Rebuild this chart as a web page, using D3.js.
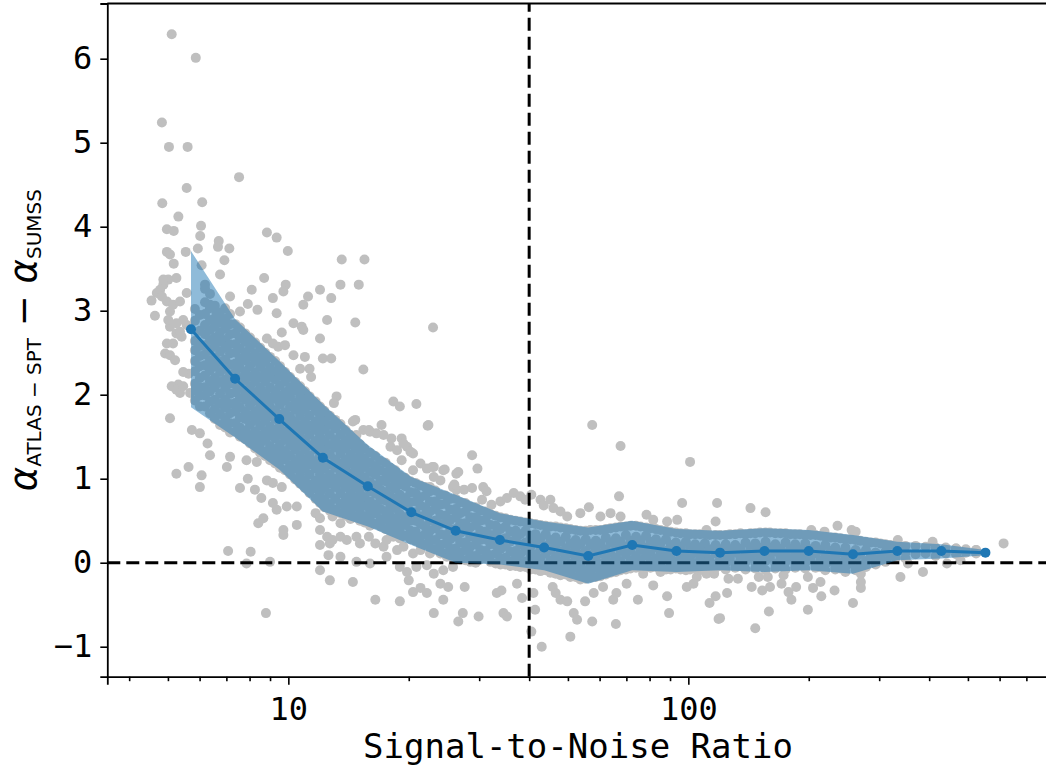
<!DOCTYPE html>
<html>
<head>
<meta charset="utf-8">
<script src="https://cdn.jsdelivr.net/npm/d3@7"></script>
<style>
  body { margin: 0; background: #fff; }
  svg { display: block; }
</style>
</head>
<body>
<svg id="chart" width="1046" height="771"></svg>
<script>
// binned running statistics (SNR bin centre, mean, mean+sd, mean-sd)
const binSnr = [5.71, 7.36, 9.49, 12.2, 15.8, 20.3, 26.2, 33.8, 43.6, 56.2, 72.4, 93.4, 120, 155, 200, 258, 333, 429, 553];
const binMean = [2.78, 2.19, 1.71, 1.25, 0.91, 0.60, 0.38, 0.27, 0.18, 0.08, 0.21, 0.14, 0.12, 0.14, 0.14, 0.10, 0.14, 0.14, 0.12];
const binUpper = [3.71, 2.90, 2.40, 1.89, 1.40, 1.02, 0.81, 0.59, 0.49, 0.42, 0.50, 0.40, 0.38, 0.41, 0.39, 0.33, 0.25, 0.22, 0.15];
const binLower = [1.85, 1.49, 1.11, 0.61, 0.43, 0.21, 0.00, -0.02, -0.09, -0.25, -0.09, -0.11, -0.09, -0.11, -0.09, -0.13, 0.03, 0.05, 0.09];

// reference cuts
const snrCut = 40;
const alphaCut = 0;

const xMajor = [10, 100];
const xMinor = [4, 5, 6, 7, 8, 9, 20, 30, 40, 50, 60, 70, 80, 90, 200, 300, 400, 500, 600, 700];
const yTicks = [-1, 0, 1, 2, 3, 4, 5, 6];

// individual sources [SNR, alpha difference] - isolated ones
const sources = [
  [5.11, 6.29], [5.87, 6.01], [4.83, 5.24], [5.03, 4.95], [5.60, 4.95], [7.53, 4.59], [5.57, 4.46],
  [4.84, 4.28], [6.09, 4.29], [5.31, 4.12], [4.97, 3.97], [5.17, 3.95], [6.05, 4.01], [6.02, 3.89],
  [8.84, 3.93], [9.35, 3.87], [9.97, 3.71], [6.70, 3.83], [6.67, 3.76], [7.12, 3.74], [4.97, 3.70],
  [5.06, 3.67], [5.54, 3.70], [5.94, 3.74], [5.17, 3.56], [6.07, 3.54], [6.92, 3.60], [13.6, 3.61],
  [15.5, 3.61], [6.75, 3.43], [8.70, 3.39], [5.25, 3.39], [5.01, 3.37], [9.85, 3.31], [9.72, 3.23],
  [12.0, 3.25], [13.5, 3.31], [15.0, 3.31], [4.87, 3.31], [4.78, 3.25], [4.69, 3.21], [4.55, 3.12],
  [4.64, 2.94], [4.97, 3.11], [5.15, 3.07], [5.36, 3.11], [6.19, 3.26], [5.57, 3.21], [7.15, 3.17],
  [8.10, 3.25], [7.92, 3.08], [8.37, 3.01], [9.15, 3.15], [11.2, 3.17], [10.9, 3.07], [12.8, 3.15],
  [9.35, 2.97], [7.57, 2.99], [6.37, 3.07], [6.62, 2.97], [6.88, 2.89], [10.3, 2.85], [10.8, 2.81],
  [10.9, 2.77], [9.63, 2.74], [12.5, 2.89], [12.0, 2.67], [14.7, 2.86], [5.06, 2.81], [5.25, 2.73],
  [5.41, 2.69], [5.57, 2.83], [5.15, 2.61], [4.97, 2.61], [4.92, 2.49], [5.06, 2.47], [5.21, 2.41],
  [4.87, 3.37], [4.83, 3.17], [5.06, 2.99], [5.01, 2.89], [5.25, 2.85], [5.46, 2.89], [5.36, 2.75],
  [5.11, 2.10], [5.31, 2.12], [5.36, 2.02], [5.06, 1.72], [5.25, 2.06], [5.46, 2.10], [5.68, 2.02],
  [5.63, 2.25], [5.46, 2.27], [5.74, 1.58], [6.01, 1.54], [6.28, 1.42], [6.37, 1.28], [5.63, 1.14],
  [5.25, 1.06], [6.07, 1.04], [7.15, 1.26], [7.02, 1.14], [6.01, 0.90], [7.57, 0.89], [7.92, 1.00],
  [7.86, 1.22], [8.25, 0.87], [8.56, 0.77], [8.34, 1.20], [8.84, 0.98], [9.15, 0.95], [9.63, 0.90],
  [9.91, 0.67], [10.5, 0.67], [9.15, 0.71], [9.35, 0.63], [8.41, 0.47], [8.66, 0.53], [9.72, 0.39],
  [9.72, 0.33], [10.5, 0.45], [7.07, 0.14], [8.05, 0.13], [7.86, -0.01], [9.00, 0.01], [12.0, 0.39],
  [12.0, 0.21], [12.7, 0.23], [12.9, 0.27], [12.0, -0.09], [12.7, -0.21], [8.79, -0.60], [11.7, 0.59],
  [12.0, 0.53], [12.9, 0.55], [13.5, 0.47],
  [8.84, 2.67], [9.15, 2.61], [9.43, 2.57], [9.81, 2.59], [10.3, 2.47], [11.0, 2.45], [10.7, 2.31],
  [11.3, 2.31], [11.4, 2.21], [12.2, 2.43], [12.8, 2.43], [15.4, 2.30], [13.2, 1.98], [13.0, 1.90],
  [23.0, 2.80], [18.3, 1.92], [19.0, 1.86], [20.9, 1.89], [22.4, 1.64], [14.7, 1.70], [15.4, 1.58],
  [16.0, 1.56], [16.6, 1.54], [17.3, 1.52], [18.1, 1.48], [19.2, 1.48], [19.8, 1.38], [17.1, 1.64],
  [18.0, 1.38], [18.7, 1.34], [20.5, 1.30], [21.4, 1.18], [22.2, 1.12], [14.5, 1.68], [14.8, 1.52],
  [15.9, 1.58], [19.2, 1.22], [20.5, 1.10], [23.1, 1.14], [24.6, 1.11], [26.3, 1.06], [23.1, 1.02],
  [24.0, 0.98], [25.8, 0.90], [26.3, 0.87], [22.3, 1.63], [19.4, 1.42], [20.2, 1.32], [22.9, 1.14],
  [24.4, 1.10], [26.6, 1.08], [28.8, 1.28], [29.7, 1.12], [22.6, 0.90], [26.0, 0.93], [27.5, 0.87],
  [28.8, 0.89], [30.7, 0.90], [31.3, 0.85], [30.5, 0.75], [32.2, 0.69], [33.9, 0.73], [35.2, 0.77],
  [36.6, 0.83], [38.0, 0.79], [39.1, 0.75], [40.5, 0.81], [42.7, 0.75], [45.2, 0.75], [43.5, 0.68],
  [46.0, 0.65], [47.9, 0.61], [49.8, 0.55], [53.7, 0.59], [56.4, 0.66], [57.5, 1.64], [67.7, 1.39],
  [67.1, 0.79], [60.3, 0.55], [63.9, 0.59], [67.7, 0.55], [78.6, 0.57], [81.7, 0.51], [88.5, 0.49],
  [93.8, 0.51], [96.5, 0.71], [101, 1.20], [118, 0.71], [117, 0.49], [111, 0.39], [143, 0.65],
  [156, 0.60], [236, 0.44], [256, 0.39], [262, 0.37], [203, 0.39], [219, 0.37], [614, 0.23],
  [334, 0.27], [408, 0.25], [467, 0.17], [524, 0.15], [354, -0.01], [443, -0.01], [479, 0.03],
  [311, 0.01], [339, 0.19], [339, -0.17], [386, -0.11],
  [12.5, 0.31], [13.5, 0.31], [14.0, 0.27], [14.8, 0.31], [15.1, 0.23], [15.9, 0.31], [16.5, 0.23],
  [17.3, 0.19], [17.6, 0.27], [18.3, 0.31], [18.7, 0.15], [19.4, 0.19], [20.5, 0.11], [21.4, 0.15],
  [22.6, 0.11], [24.0, 0.11], [24.9, 0.07], [14.5, -0.23], [12.6, 0.09], [13.5, 0.07], [14.8, 0.01],
  [16.0, -0.01], [17.6, 0.07], [19.0, -0.05], [19.8, -0.11], [20.9, -0.05], [22.2, -0.03], [23.1, -0.13],
  [24.4, -0.09], [25.8, -0.05], [20.0, -0.21], [20.5, -0.35], [21.4, -0.30], [22.2, -0.36], [24.0, -0.25],
  [25.1, -0.29], [16.5, -0.44], [19.0, -0.46], [23.1, -0.60], [24.4, -0.44], [26.6, -0.70], [27.3, -0.60],
  [27.6, -0.29], [29.9, -0.64], [33.2, -0.36], [34.1, -0.33], [34.5, -0.60], [35.2, -0.64], [37.3, -0.25],
  [38.4, -0.42], [41.0, -0.36], [40.5, -0.82], [41.4, -0.56], [43.0, -1.00], [45.8, -0.29], [46.6, -0.36],
  [47.9, -0.44], [49.8, -0.46], [50.7, -0.88], [51.7, -0.60], [52.7, -0.68], [55.2, -0.46], [57.5, -0.70],
  [58.0, -0.36], [61.2, -0.29], [64.9, -0.44], [66.1, -0.36], [65.9, -0.73], [70.1, -0.25], [74.8, -0.44],
  [81.7, -0.27], [88.5, -0.40], [89.5, -0.60], [99.1, -0.29], [103, -0.25], [117, -0.40], [113, -0.48],
  [119, -0.67], [105, -0.17], [111, -0.13], [77.1, -0.13], [85.2, -0.11],
  [270, -0.13], [270, -0.23], [270, -0.30], [258, -0.48], [232, -0.33], [215, -0.40], [205, -0.30],
  [214, -0.23], [199, -0.17], [186, -0.29], [178, -0.35], [181, -0.44], [171, -0.25], [159, -0.58],
  [147, -0.78], [120, -0.66], [125, -0.36], [144, -0.29], [153, -0.33], [160, -0.29], [150, -0.17],
  [158, -0.17], [133, -0.19], [126, -0.19], [116, -0.13], [199, -0.56], [173, -0.15], [107, -0.09]
];

// the dense core of the distribution, read column by column [SNR, [alpha differences]]
const coreColumns = [
  [5.84, [3.02, 2.88, 2.64, 2.53, 2.40, 2.28, 2.13, 2.05, 1.93]],
  [6.19, [3.31, 3.10, 2.96, 2.83, 2.72, 2.59, 2.48, 2.35, 2.23, 2.09, 1.99, 1.86]],
  [6.55, [3.06, 2.91, 2.81, 2.68, 2.58, 2.44, 2.34, 2.20, 2.09, 1.94, 1.83, 1.71]],
  [6.95, [3.03, 2.90, 2.79, 2.65, 2.56, 2.42, 2.31, 2.18, 2.08, 1.94, 1.85, 1.71, 1.61]],
  [7.37, [2.84, 2.73, 2.60, 2.50, 2.37, 2.27, 2.13, 2.03, 1.90, 1.80, 1.66, 1.56]],
  [7.80, [2.73, 2.63, 2.50, 2.41, 2.27, 2.17, 2.04, 1.94, 1.80, 1.71, 1.57, 1.47]],
  [8.26, [2.62, 2.49, 2.40, 2.26, 2.16, 2.03, 1.93, 1.80, 1.70, 1.56, 1.47, 1.36]],
  [8.75, [2.50, 2.39, 2.26, 2.16, 2.02, 1.93, 1.79, 1.69, 1.56, 1.46, 1.32, 1.27]],
  [9.27, [2.40, 2.28, 2.18, 2.04, 1.95, 1.81, 1.71, 1.58, 1.48, 1.35, 1.25, 1.18]],
  [9.81, [2.27, 2.16, 2.03, 1.93, 1.79, 1.70, 1.56, 1.47, 1.33, 1.23, 1.10]],
  [10.4, [2.15, 2.05, 1.91, 1.82, 1.68, 1.58, 1.45, 1.35, 1.21, 1.12, 0.99]],
  [11.0, [2.04, 1.92, 1.82, 1.68, 1.59, 1.45, 1.35, 1.22, 1.12, 0.98, 0.89]],
  [11.7, [1.92, 1.81, 1.68, 1.58, 1.45, 1.35, 1.21, 1.12, 0.98, 0.88, 0.76]],
  [12.3, [1.81, 1.69, 1.59, 1.45, 1.36, 1.22, 1.12, 0.99, 0.89, 0.75, 0.66]],
  [13.1, [1.70, 1.60, 1.46, 1.37, 1.23, 1.13, 1.00, 0.90, 0.76, 0.63]],
  [13.9, [1.58, 1.46, 1.36, 1.23, 1.13, 1.00, 0.90, 0.77, 0.67, 0.56]],
  [14.7, [1.47, 1.36, 1.23, 1.13, 1.00, 0.90, 0.77, 0.67, 0.54]],
  [15.5, [1.36, 1.24, 1.14, 1.01, 0.91, 0.78, 0.68, 0.55, 0.48]],
  [16.5, [1.27, 1.15, 1.05, 0.92, 0.82, 0.69, 0.59, 0.46]],
  [17.5, [1.19, 1.07, 0.97, 0.84, 0.74, 0.61, 0.51, 0.40]],
  [18.5, [1.10, 0.98, 0.88, 0.75, 0.65, 0.52, 0.42, 0.34]],
  [19.6, [1.01, 0.91, 0.77, 0.68, 0.54, 0.45, 0.32]],
  [20.8, [0.95, 0.83, 0.73, 0.60, 0.50, 0.37, 0.26]],
  [22.0, [0.90, 0.80, 0.66, 0.57, 0.43, 0.34, 0.22]],
  [23.3, [0.86, 0.73, 0.64, 0.50, 0.41, 0.27, 0.16]],
  [24.7, [0.80, 0.70, 0.56, 0.47, 0.33, 0.23, 0.11]],
  [26.2, [0.76, 0.64, 0.54, 0.40, 0.31, 0.17, 0.07]],
  [27.7, [0.71, 0.61, 0.47, 0.38, 0.24, 0.15, 0.03]],
  [29.4, [0.66, 0.54, 0.45, 0.31, 0.22, 0.08, 0.00]],
  [31.1, [0.61, 0.51, 0.37, 0.28, 0.14, 0.05]],
  [33.0, [0.56, 0.44, 0.34, 0.21, 0.11, -0.01]],
  [34.9, [0.53, 0.43, 0.29, 0.20, 0.06, -0.02]],
  [37.0, [0.50, 0.38, 0.28, 0.14, 0.05, -0.04]],
  [39.2, [0.48, 0.38, 0.24, 0.15, 0.01, -0.05]],
  [41.5, [0.46, 0.34, 0.24, 0.10, 0.01, -0.08]],
  [44.0, [0.44, 0.34, 0.20, 0.11, -0.03, -0.09]],
  [46.6, [0.43, 0.30, 0.21, 0.07, -0.02, -0.13]],
  [49.4, [0.41, 0.31, 0.17, 0.08, -0.06, -0.14]],
  [52.3, [0.39, 0.27, 0.17, 0.04, -0.06, -0.17]],
  [55.4, [0.38, 0.28, 0.14, 0.05, -0.09, -0.19]],
  [58.7, [0.39, 0.26, 0.17, 0.03, -0.06, -0.17]],
  [62.2, [0.40, 0.30, 0.16, 0.07, -0.07, -0.14]],
  [65.9, [0.42, 0.29, 0.20, 0.06, -0.03, -0.11]],
  [69.8, [0.43, 0.33, 0.19, 0.10, -0.04, -0.08]],
  [74.0, [0.44, 0.31, 0.22, 0.08, -0.01, -0.06]],
  [78.4, [0.42, 0.32, 0.18, 0.09, -0.05]],
  [83.0, [0.40, 0.28, 0.18, 0.05, -0.05]],
  [87.9, [0.38, 0.28, 0.14, 0.05, -0.08]],
  [93.1, [0.36, 0.24, 0.14, 0.01, -0.07]],
  [98.6, [0.35, 0.25, 0.11, 0.02, -0.09]],
  [104, [0.34, 0.22, 0.12, -0.01, -0.07]],
  [110, [0.34, 0.23, 0.10, 0.00, -0.08]],
  [117, [0.33, 0.21, 0.11, -0.02, -0.06]],
  [124, [0.33, 0.22, 0.09, -0.01, -0.08]],
  [131, [0.34, 0.21, 0.12, -0.02, -0.06]],
  [139, [0.34, 0.24, 0.10, 0.01, -0.08]],
  [147, [0.35, 0.23, 0.13, 0.00, -0.07]],
  [156, [0.36, 0.25, 0.12, 0.02, -0.09]],
  [165, [0.35, 0.22, 0.13, -0.01, -0.07]],
  [175, [0.35, 0.24, 0.11, 0.01, -0.08]],
  [185, [0.34, 0.22, 0.12, -0.01, -0.06]],
  [196, [0.33, 0.23, 0.09, 0.00, -0.07]],
  [208, [0.33, 0.20, 0.11, -0.03, -0.06]],
  [220, [0.31, 0.21, 0.07, -0.02, -0.09]],
  [233, [0.30, 0.18, 0.08, -0.05, -0.08]],
  [247, [0.28, 0.18, 0.04, -0.05, -0.11]],
  [262, [0.27, 0.15, 0.05, -0.08, -0.09]],
  [278, [0.25, 0.15, 0.02, -0.05]],
  [294, [0.24, 0.12, 0.03, -0.02]],
  [311, [0.22, 0.13, 0.02]],
  [330, [0.21, 0.11, 0.06]],
  [349, [0.20, 0.12, 0.05]],
  [370, [0.20, 0.10]],
  [392, [0.19, 0.11]],
  [415, [0.18, 0.08]],
  [440, [0.18, 0.11]],
  [467, [0.17, 0.10]],
  [494, [0.16, 0.12]],
  [524, [0.15, 0.11]]
];

// more of the core, lying between the columns above
const coreBetween = [
  [6.01, [2.95, 2.76, 2.58, 2.46, 2.34, 2.20, 2.09, 1.99, 1.86]],
  [6.37, [3.20, 3.03, 2.89, 2.77, 2.65, 2.53, 2.41, 2.29, 2.16, 2.04, 1.92, 1.78]],
  [6.75, [2.98, 2.86, 2.74, 2.63, 2.51, 2.39, 2.27, 2.15, 2.01, 1.89, 1.77, 1.64]],
  [7.15, [2.96, 2.84, 2.72, 2.60, 2.49, 2.36, 2.24, 2.13, 2.01, 1.89, 1.78, 1.66, 1.55]],
  [7.57, [2.80, 2.67, 2.55, 2.43, 2.32, 2.20, 2.08, 1.96, 1.85, 1.73, 1.61, 1.50]],
  [8.02, [2.68, 2.56, 2.45, 2.34, 2.22, 2.10, 1.99, 1.87, 1.75, 1.64, 1.52, 1.42]],
  [8.50, [2.56, 2.44, 2.33, 2.21, 2.09, 1.98, 1.86, 1.75, 1.63, 1.51, 1.41, 1.31]],
  [9.00, [2.45, 2.32, 2.21, 2.09, 1.97, 1.86, 1.74, 1.62, 1.51, 1.39, 1.29, 1.22]],
  [9.53, [2.34, 2.23, 2.11, 1.99, 1.88, 1.76, 1.64, 1.53, 1.41, 1.30, 1.21, 1.13]],
  [10.1, [2.21, 2.09, 1.98, 1.86, 1.74, 1.63, 1.51, 1.40, 1.28, 1.16, 1.05]],
  [10.7, [2.10, 1.98, 1.86, 1.75, 1.63, 1.51, 1.40, 1.28, 1.16, 1.05, 0.94]],
  [11.3, [1.98, 1.87, 1.75, 1.63, 1.52, 1.40, 1.28, 1.17, 1.05, 0.93, 0.83]],
  [12.0, [1.86, 1.75, 1.63, 1.51, 1.40, 1.28, 1.16, 1.05, 0.93, 0.82, 0.71]],
  [12.7, [1.75, 1.64, 1.52, 1.40, 1.29, 1.17, 1.05, 0.94, 0.82, 0.70, 0.62]],
  [13.5, [1.65, 1.53, 1.41, 1.30, 1.18, 1.06, 0.95, 0.83, 0.70, 0.59]],
  [14.3, [1.52, 1.41, 1.29, 1.18, 1.06, 0.95, 0.83, 0.72, 0.61, 0.52]],
  [15.1, [1.41, 1.29, 1.18, 1.06, 0.95, 0.83, 0.72, 0.60, 0.50]],
  [16.0, [1.31, 1.19, 1.08, 0.96, 0.85, 0.73, 0.62, 0.51, 0.44]],
  [17.0, [1.21, 1.10, 0.98, 0.87, 0.75, 0.64, 0.52, 0.43]],
  [18.0, [1.13, 1.02, 0.90, 0.79, 0.67, 0.56, 0.45, 0.37]],
  [19.0, [1.04, 0.93, 0.81, 0.70, 0.58, 0.47, 0.37, 0.29]],
  [20.2, [0.97, 0.84, 0.72, 0.61, 0.50, 0.38, 0.28]],
  [21.4, [0.92, 0.78, 0.68, 0.55, 0.46, 0.31, 0.22]],
  [22.6, [0.85, 0.73, 0.61, 0.50, 0.38, 0.28, 0.18]],
  [24.0, [0.81, 0.69, 0.57, 0.46, 0.34, 0.21, 0.13]],
  [25.4, [0.76, 0.63, 0.51, 0.40, 0.28, 0.17, 0.08]],
  [26.9, [0.72, 0.59, 0.47, 0.35, 0.24, 0.12, 0.04]],
  [28.5, [0.67, 0.54, 0.42, 0.31, 0.19, 0.09, 0.01]],
  [30.2, [0.62, 0.50, 0.38, 0.27, 0.15, 0.04]],
  [32.0, [0.58, 0.45, 0.33, 0.22, 0.09, 0.01]],
  [33.9, [0.54, 0.40, 0.28, 0.16, 0.05, -0.02]],
  [35.9, [0.51, 0.37, 0.25, 0.13, 0.01, -0.04]],
  [38.0, [0.49, 0.34, 0.22, 0.10, -0.01, -0.05]],
  [40.3, [0.47, 0.32, 0.19, 0.08, -0.03, -0.08]],
  [42.7, [0.45, 0.29, 0.17, 0.05, -0.05, -0.10]],
  [45.2, [0.43, 0.27, 0.15, 0.03, -0.07, -0.12]],
  [47.9, [0.42, 0.25, 0.13, 0.01, -0.09, -0.15]],
  [50.7, [0.40, 0.23, 0.11, -0.01, -0.11, -0.17]],
  [53.7, [0.38, 0.22, 0.10, -0.02, -0.13, -0.20]],
  [56.9, [0.39, 0.22, 0.10, -0.02, -0.12, -0.18]],
  [60.3, [0.39, 0.23, 0.11, -0.01, -0.10, -0.16]],
  [63.9, [0.41, 0.24, 0.12, 0.00, -0.08, -0.12]],
  [67.7, [0.43, 0.25, 0.14, 0.02, -0.06, -0.09]],
  [71.7, [0.44, 0.26, 0.15, 0.03, -0.05, -0.07]],
  [75.9, [0.43, 0.26, 0.15, 0.03, -0.05]],
  [80.4, [0.41, 0.25, 0.13, 0.02, -0.06]],
  [85.2, [0.39, 0.23, 0.11, 0.00, -0.07]],
  [90.3, [0.37, 0.21, 0.09, -0.02, -0.08]],
  [95.6, [0.35, 0.19, 0.07, -0.03, -0.08]],
  [101, [0.34, 0.18, 0.06, -0.04, -0.08]],
  [107, [0.34, 0.17, 0.05, -0.04]],
  [113, [0.33, 0.16, 0.04, -0.04]],
  [120, [0.33, 0.16, 0.04, -0.04]],
  [127, [0.34, 0.16, 0.05]],
  [135, [0.35, 0.17, 0.05, -0.04]],
  [143, [0.35, 0.18, 0.06]],
  [151, [0.36, 0.18, 0.07, -0.04]],
  [160, [0.36, 0.18, 0.06]],
  [170, [0.35, 0.17, 0.06, -0.04]],
  [180, [0.34, 0.17, 0.05]],
  [190, [0.34, 0.16, 0.05, -0.03]],
  [202, [0.33, 0.16, 0.04]],
  [214, [0.32, 0.15, 0.03, -0.05]],
  [227, [0.30, 0.14, 0.02]],
  [240, [0.29, 0.12, 0.00, -0.07]],
  [254, [0.28, 0.11, -0.01]],
  [269, [0.26, 0.10, -0.02]],
  [286, [0.24, 0.09]],
  [302, [0.23, 0.08]],
  [320, [0.21, 0.08]]
];

const plot = { left: 107.3, right: 1048.7, top: 3.5, bottom: 676.7 };
const blue = "#1f77b4";

const svg = d3.select("#chart");

const x = d3.scaleLog().domain([3.527, 796]).range([plot.left, plot.right]);
const y = d3.scaleLinear().domain([-1.357, 6.657]).range([plot.bottom, plot.top]);

const points = sources
    .concat(coreColumns.flatMap(([s, vals]) => vals.map((v) => [s, v])))
    .concat(coreBetween.flatMap(([s, vals]) => vals.map((v) => [s, v])));

svg.append("clipPath")
    .attr("id", "plotClip")
    .append("rect")
    .attr("x", plot.left)
    .attr("y", plot.top)
    .attr("width", plot.right - plot.left)
    .attr("height", plot.bottom - plot.top);

const body = svg.append("g").attr("clip-path", "url(#plotClip)");

// scatter
body.append("g")
    .selectAll("circle")
    .data(points)
    .enter()
    .append("circle")
    .attr("cx", (d) => x(d[0]))
    .attr("cy", (d) => y(d[1]))
    .attr("r", 5)
    .attr("fill", "#bfbfbf");

// reference lines
body.append("line")
    .attr("x1", plot.left).attr("x2", plot.right)
    .attr("y1", y(alphaCut)).attr("y2", y(alphaCut))
    .attr("stroke", "#000").attr("stroke-width", 3)
    .attr("stroke-dasharray", "13,6");

body.append("line")
    .attr("x1", x(snrCut)).attr("x2", x(snrCut))
    .attr("y1", plot.bottom).attr("y2", plot.top)
    .attr("stroke", "#000").attr("stroke-width", 3)
    .attr("stroke-dasharray", "13,6");

// +-1 sigma band
const bins = binSnr.map((s, i) => ({ s, m: binMean[i], hi: binUpper[i], lo: binLower[i] }));

body.append("path")
    .datum(bins)
    .attr("d", d3.area().x((d) => x(d.s)).y0((d) => y(d.lo)).y1((d) => y(d.hi)))
    .attr("fill", blue)
    .attr("fill-opacity", 0.5);

body.append("path")
    .datum(bins)
    .attr("d", d3.line().x((d) => x(d.s)).y((d) => y(d.m)))
    .attr("fill", "none")
    .attr("stroke", blue)
    .attr("stroke-width", 3);

body.append("g")
    .selectAll("circle")
    .data(bins)
    .enter()
    .append("circle")
    .attr("cx", (d) => x(d.s))
    .attr("cy", (d) => y(d.m))
    .attr("r", 5)
    .attr("fill", blue);

// axes
const tickFont = "DejaVu Sans Mono";

svg.append("g")
    .attr("transform", `translate(0,${plot.bottom})`)
    .call(d3.axisBottom(x).tickValues(xMajor).tickFormat(d3.format("d")).tickSize(8).tickPadding(13));

svg.append("g")
    .attr("transform", `translate(0,${plot.bottom})`)
    .call(d3.axisBottom(x).tickValues(xMinor).tickFormat("").tickSize(4.5))
    .call((g) => g.select(".domain").remove());

svg.append("g")
    .attr("transform", `translate(${plot.left},0)`)
    .call(d3.axisLeft(y).tickValues(yTicks).tickSize(7).tickPadding(8));

svg.selectAll(".tick line").attr("stroke-width", 1.6);
svg.selectAll(".domain").attr("stroke-width", 1.8);
svg.selectAll(".tick text")
    .style("font-family", tickFont)
    .style("font-size", "32px")
    .attr("fill", "#000");

// top spine (right one falls outside the picture)
svg.append("line")
    .attr("x1", plot.left).attr("x2", plot.right)
    .attr("y1", plot.top).attr("y2", plot.top)
    .attr("stroke", "#000").attr("stroke-width", 1.8);
svg.append("line")
    .attr("x1", plot.right).attr("x2", plot.right)
    .attr("y1", plot.top).attr("y2", plot.bottom)
    .attr("stroke", "#000").attr("stroke-width", 1.8);

// labels
svg.append("text")
    .attr("x", (plot.left + plot.right) / 2)
    .attr("y", 758)
    .attr("text-anchor", "middle")
    .style("font-family", tickFont)
    .style("font-size", "34px")
    .text("Signal-to-Noise Ratio");

const ylab = svg.append("text")
    .attr("transform", `translate(36,${(plot.top + plot.bottom) / 2}) rotate(-90)`)
    .attr("text-anchor", "middle")
    .attr("xml:space", "preserve")
    .style("font-family", "DejaVu Sans");
ylab.append("tspan").attr("font-style", "italic").attr("font-size", 37).text("α");
ylab.append("tspan").attr("font-size", 20).attr("dy", 5).text("ATLAS − SPT");
ylab.append("tspan").attr("font-size", 37).attr("dy", -5).text(" − ");
ylab.append("tspan").attr("font-style", "italic").attr("font-size", 37).text("α");
ylab.append("tspan").attr("font-size", 20).attr("dy", 5).text("SUMSS");
</script>
</body>
</html>
